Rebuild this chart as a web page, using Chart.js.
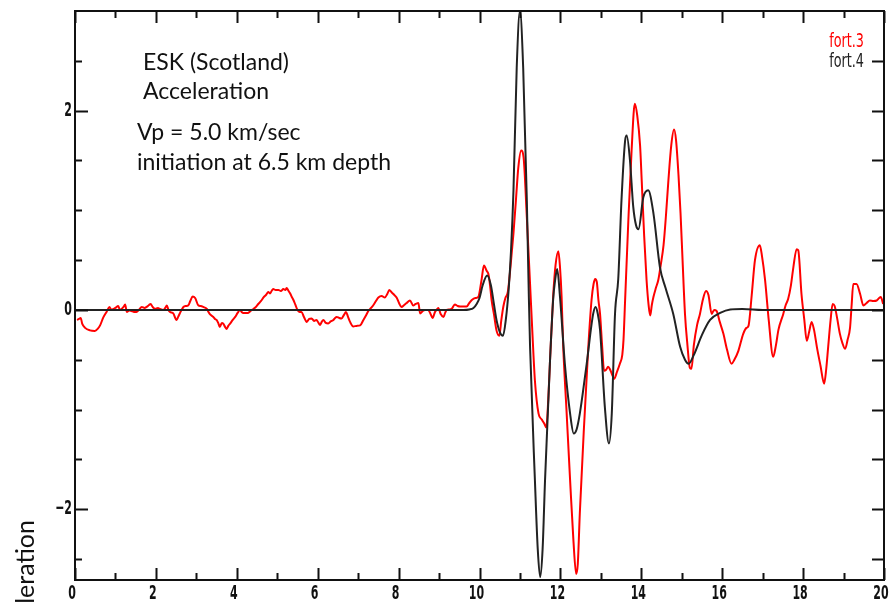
<!DOCTYPE html>
<html>
<head>
<meta charset="utf-8">
<script src="https://cdn.jsdelivr.net/npm/chart.js@4.4.0/dist/chart.umd.min.js"></script>
<style>
  html, body { margin: 0; padding: 0; background: #fff; }
</style>
</head>
<body>
<canvas id="accelChart" width="894" height="603"></canvas>
<script>
// observed record (fort.3): time in s, acceleration
const obsTime = [
  0.05, 0.10, 0.14, 0.18, 0.25, 0.37, 0.49, 0.56, 0.62, 0.70, 0.78, 0.85, 0.90, 0.95, 1.00,
  1.07, 1.11, 1.15, 1.20, 1.24, 1.28, 1.34, 1.40, 1.46, 1.52, 1.58, 1.65, 1.72, 1.77, 1.83,
  1.87, 1.92, 1.98, 2.05, 2.10, 2.18, 2.23, 2.27, 2.31, 2.35, 2.43, 2.51, 2.55, 2.59, 2.68,
  2.74, 2.80, 2.85, 2.91, 2.97, 3.05, 3.11, 3.17, 3.26, 3.30, 3.34, 3.42, 3.46, 3.50, 3.54,
  3.58, 3.63, 3.67, 3.71, 3.75, 3.79, 3.83, 3.90, 3.96, 4.02, 4.08, 4.12, 4.16, 4.22, 4.28,
  4.34, 4.41, 4.47, 4.53, 4.60, 4.66, 4.72, 4.78, 4.82, 4.86, 4.90, 4.96, 5.03, 5.09, 5.15,
  5.20, 5.23, 5.28, 5.32, 5.36, 5.40, 5.45, 5.50, 5.55, 5.60, 5.66, 5.73, 5.79, 5.85, 5.91,
  5.97, 6.02, 6.06, 6.10, 6.14, 6.20, 6.26, 6.32, 6.39, 6.43, 6.47, 6.53, 6.59, 6.65, 6.70,
  6.75, 6.80, 6.88, 6.96, 7.05, 7.13, 7.20, 7.26, 7.32, 7.37, 7.44, 7.50, 7.58, 7.66, 7.72,
  7.77, 7.82, 7.87, 7.95, 8.01, 8.07, 8.14, 8.20, 8.28, 8.36, 8.42, 8.49, 8.53, 8.60, 8.65,
  8.73, 8.79, 8.84, 8.90, 8.94, 8.98, 9.04, 9.11, 9.15, 9.19, 9.25, 9.31, 9.39, 9.46, 9.52,
  9.60, 9.68, 9.75, 9.81, 9.90, 9.97, 10.05, 10.11, 10.18, 10.22, 10.26, 10.30, 10.36, 10.42, 10.49,
  10.54, 10.59, 10.64, 10.70, 10.77, 10.84, 10.90, 10.96, 11.03, 11.09, 11.17, 11.25, 11.31, 11.37, 11.46,
  11.54, 11.60, 11.65, 11.70, 11.74, 11.82, 11.88, 11.95, 11.99, 12.03, 12.07, 12.15, 12.24, 12.32, 12.39,
  12.43, 12.48, 12.58, 12.69, 12.77, 12.82, 12.86, 12.90, 12.94, 12.98, 13.03, 13.08, 13.13, 13.18, 13.23,
  13.28, 13.33, 13.40, 13.47, 13.53, 13.56, 13.60, 13.68, 13.76, 13.84, 13.90, 13.97, 14.01, 14.07, 14.13,
  14.18, 14.22, 14.26, 14.30, 14.36, 14.42, 14.48, 14.55, 14.61, 14.67, 14.74, 14.81, 14.86, 14.92, 14.97,
  15.02, 15.08, 15.14, 15.20, 15.24, 15.30, 15.38, 15.45, 15.52, 15.60, 15.66, 15.74, 15.80, 15.86, 15.94,
  16.03, 16.12, 16.23, 16.30, 16.40, 16.52, 16.60, 16.65, 16.73, 16.81, 16.93, 16.98, 17.06, 17.15, 17.26,
  17.33, 17.39, 17.51, 17.57, 17.63, 17.70, 17.76, 17.84, 17.88, 17.96, 18.03, 18.09, 18.15, 18.21, 18.27,
  18.34, 18.43, 18.52, 18.57, 18.62, 18.68, 18.73, 18.78, 18.84, 18.91, 18.97, 19.04, 19.10, 19.16, 19.20,
  19.24, 19.32, 19.41, 19.49, 19.57, 19.65, 19.74, 19.82, 19.88, 19.92, 19.98
];
const obsAccel = [
  -0.10, -0.09, -0.08, -0.14, -0.18, -0.205, -0.21, -0.19, -0.155, -0.075, -0.02, 0.03, 0.00, 0.01, 0.02,
  0.04, 0.00, 0.01, 0.03, 0.055, -0.02, -0.005, -0.01, -0.02, -0.02, 0.00, 0.03, 0.02, 0.03, 0.05,
  0.06, 0.03, 0.01, 0.02, 0.01, 0.00, 0.02, 0.045, 0.00, -0.02, -0.035, -0.10, -0.07, -0.035, 0.03,
  0.04, 0.045, 0.09, 0.135, 0.12, 0.045, 0.04, 0.03, 0.01, -0.02, -0.045, -0.07, -0.09, -0.10, -0.13,
  -0.17, -0.13, -0.14, -0.17, -0.19, -0.16, -0.14, -0.10, -0.07, -0.03, 0.00, -0.02, -0.03, -0.03, -0.03,
  -0.01, 0.01, 0.03, 0.06, 0.09, 0.125, 0.15, 0.18, 0.165, 0.19, 0.21, 0.20, 0.20, 0.19, 0.21,
  0.20, 0.22, 0.19, 0.165, 0.13, 0.10, 0.05, 0.00, -0.02, -0.02, -0.07, -0.12, -0.09, -0.085, -0.11,
  -0.10, -0.13, -0.15, -0.12, -0.10, -0.13, -0.135, -0.115, -0.10, -0.08, -0.07, -0.08, -0.085, -0.05, -0.02,
  -0.07, -0.12, -0.165, -0.16, -0.155, -0.10, -0.05, -0.005, 0.02, 0.045, 0.09, 0.125, 0.14, 0.125, 0.16,
  0.20, 0.18, 0.16, 0.125, 0.07, 0.03, 0.05, 0.07, 0.095, 0.045, 0.06, 0.07, -0.035, -0.01, 0.00,
  0.00, -0.04, -0.08, -0.02, 0.00, 0.02, -0.04, -0.07, -0.03, 0.00, 0.005, 0.01, 0.055, 0.04, 0.035,
  0.035, 0.035, 0.07, 0.10, 0.12, 0.13, 0.30, 0.445, 0.39, 0.36, 0.25, 0.095, -0.05, -0.205, -0.26,
  -0.10, 0.035, 0.12, 0.18, 0.45, 0.77, 1.10, 1.43, 1.60, 1.53, 0.93, 0.26, -0.25, -0.71, -1.04,
  -1.10, -1.14, -1.18, -0.90, -0.54, 0.13, 0.45, 0.59, 0.43, 0.13, -0.37, -1.00, -1.71, -2.30, -2.65,
  -2.55, -2.04, -1.20, -0.37, 0.10, 0.26, 0.31, 0.28, 0.10, -0.04, -0.35, -0.61, -0.60, -0.57, -0.60,
  -0.65, -0.69, -0.62, -0.54, -0.45, -0.30, 0.10, 0.90, 1.60, 2.07, 1.95, 1.65, 1.30, 0.75, 0.30,
  0.05, -0.055, 0.05, 0.13, 0.22, 0.30, 0.45, 0.65, 0.95, 1.30, 1.65, 1.81, 1.70, 1.35, 0.97,
  0.50, -0.04, -0.35, -0.58, -0.59, -0.35, -0.15, -0.04, 0.10, 0.19, 0.15, -0.04, 0.00, -0.01, -0.12,
  -0.24, -0.40, -0.54, -0.50, -0.41, -0.24, -0.18, -0.16, 0.15, 0.50, 0.65, 0.55, 0.30, -0.10, -0.47,
  -0.35, -0.20, -0.04, 0.05, 0.11, 0.25, 0.43, 0.61, 0.60, 0.16, -0.10, -0.31, -0.22, -0.12, -0.20,
  -0.37, -0.56, -0.74, -0.60, -0.37, -0.10, 0.06, 0.04, -0.08, -0.24, -0.33, -0.39, -0.30, -0.18, 0.05,
  0.26, 0.26, 0.16, 0.045, 0.07, 0.095, 0.09, 0.095, 0.12, 0.13, 0.06
];

// synthetic trace (fort.4)
const synTime = [
  0, 9.60, 9.75, 9.85, 9.93, 10.00, 10.08, 10.19, 10.28, 10.36, 10.42, 10.50, 10.58, 10.65, 10.72,
  10.78, 10.84, 10.92, 11.00, 11.08, 11.17, 11.22, 11.25, 11.37, 11.44, 11.50, 11.56, 11.62, 11.74, 11.82,
  11.87, 11.92, 11.99, 12.11, 12.24, 12.33, 12.40, 12.48, 12.65, 12.81, 12.87, 12.92, 12.98, 13.10, 13.20,
  13.27, 13.35, 13.43, 13.51, 13.60, 13.64, 13.72, 13.80, 13.87, 13.93, 14.05, 14.17, 14.30, 14.46, 14.60,
  14.79, 14.96, 15.08, 15.17, 15.30, 15.50, 15.70, 15.95, 16.20, 16.50, 17.00, 20.00
];
const synAccel = [
  0, 0, 0.005, 0.02, 0.06, 0.12, 0.25, 0.345, 0.25, 0.05, -0.10, -0.22, -0.26, -0.10, 0.20,
  0.60, 1.20, 2.43, 3.00, 2.43, 1.10, 0.13, -0.37, -1.71, -2.40, -2.68, -2.40, -1.71, -0.54, 0.10,
  0.30, 0.41, 0.13, -0.54, -1.04, -1.24, -1.20, -1.04, -0.54, -0.04, 0.03, -0.03, -0.20, -0.98, -1.34,
  -1.04, -0.04, 0.31, 1.10, 1.70, 1.75, 1.50, 1.04, 0.85, 0.81, 1.13, 1.20, 0.97, 0.43, 0.22,
  -0.04, -0.37, -0.50, -0.54, -0.45, -0.25, -0.10, -0.03, 0.005, 0.01, 0, 0
];

const xTicks = [0, 2, 4, 6, 8, 10, 12, 14, 16, 18, 20];
const yTicks = [-2, 0, 2];

const notes = [
  { text: 'ESK (Scotland)', x: 143, y: 70 },
  { text: 'Acceleration', x: 143, y: 99 },
  { text: 'Vp = 5.0 km/sec', x: 137, y: 140 },
  { text: 'initiation at 6.5 km depth', x: 137, y: 170 }
];

const noteFont = '23px Lato, "Open Sans", sans-serif';
const titleFont = '25px Lato, "Open Sans", sans-serif';
const labelFont = 'bold 20px "DejaVu Sans", sans-serif';
const legendFont = '20px "DejaVu Sans", sans-serif';

function toPoints(xs, ys) {
  return xs.map((x, i) => ({ x: x, y: ys[i] }));
}

// narrow text: squeeze horizontally around the anchor point
function narrowText(ctx, text, x, y, align, squeeze) {
  ctx.save();
  ctx.translate(x, y);
  ctx.scale(squeeze, 1);
  ctx.textAlign = align;
  ctx.fillText(text, 0, 0);
  ctx.restore();
}

// box with inward ticks, tick labels, text notes, series names and the y title
const framePlugin = {
  id: 'frame',
  afterDraw(chart) {
    const ctx = chart.ctx;
    const a = chart.chartArea;
    const xs = chart.scales.x;
    const ys = chart.scales.y;
    ctx.save();
    ctx.strokeStyle = '#111';
    ctx.lineWidth = 2;
    ctx.strokeRect(a.left, a.top, a.right - a.left, a.bottom - a.top);

    ctx.beginPath();
    for (let v = 0; v <= 20; v += 1) {
      const px = Math.round(xs.getPixelForValue(v)) + 0.5;
      const len = v % 2 === 0 ? 12 : 7;
      ctx.moveTo(px, a.bottom); ctx.lineTo(px, a.bottom - len);
      ctx.moveTo(px, a.top); ctx.lineTo(px, a.top + len);
    }
    for (let v = -2.5; v <= 2.5; v += 0.5) {
      const py = Math.round(ys.getPixelForValue(v)) + 0.5;
      const len = v % 2 === 0 ? 13 : 7;
      ctx.moveTo(a.left, py); ctx.lineTo(a.left + len, py);
      ctx.moveTo(a.right, py); ctx.lineTo(a.right - 12, py);
    }
    ctx.stroke();

    // tick labels
    ctx.fillStyle = '#111';
    ctx.font = labelFont;
    ctx.textBaseline = 'top';
    xTicks.forEach(v => {
      narrowText(ctx, String(v), xs.getPixelForValue(v) - 3, a.bottom + 4, 'center', 0.55);
    });
    ctx.textBaseline = 'middle';
    yTicks.forEach(v => {
      narrowText(ctx, String(v).replace('-', '\u2212'), a.left - 3, ys.getPixelForValue(v), 'right', 0.55);
    });

    ctx.textBaseline = 'alphabetic';
    ctx.font = noteFont;
    ctx.textAlign = 'left';
    notes.forEach(n => ctx.fillText(n.text, n.x, n.y));

    ctx.font = legendFont;
    chart.data.datasets.forEach((ds, i) => {
      ctx.fillStyle = ds.borderColor;
      narrowText(ctx, ds.label, 864, 47 + i * 19.5, 'right', 0.64);
    });

    ctx.translate(34, 520);
    ctx.rotate(-Math.PI / 2);
    ctx.fillStyle = '#111';
    ctx.font = titleFont;
    ctx.textAlign = 'right';
    ctx.fillText('Acceleration', 0, 0);
    ctx.restore();
  }
};

new Chart(document.getElementById('accelChart').getContext('2d'), {
  type: 'scatter',
  data: {
    datasets: [{
      label: 'fort.3',
      data: toPoints(obsTime, obsAccel),
      showLine: true,
      borderColor: '#ff0000',
      borderWidth: 2,
      pointRadius: 0,
      cubicInterpolationMode: 'monotone',
      order: 2
    }, {
      label: 'fort.4',
      data: toPoints(synTime, synAccel),
      showLine: true,
      borderColor: '#222222',
      borderWidth: 2,
      pointRadius: 0,
      cubicInterpolationMode: 'monotone',
      clip: 8,
      order: 1
    }]
  },
  options: {
    responsive: false,
    animation: false,
    layout: { padding: { top: 11, right: 10, left: 0, bottom: 0 } },
    plugins: {
      legend: { display: false },
      tooltip: { enabled: false }
    },
    scales: {
      x: {
        type: 'linear',
        min: 0,
        max: 20,
        grid: { display: false, drawTicks: false },
        border: { display: false },
        afterBuildTicks: s => { s.ticks = xTicks.map(v => ({ value: v })); },
        afterFit: s => { s.height = 23; },
        ticks: { display: false }
      },
      y: {
        type: 'linear',
        min: -2.71,
        max: 3.0,
        grid: { display: false, drawTicks: false },
        border: { display: false },
        afterBuildTicks: s => { s.ticks = yTicks.map(v => ({ value: v })); },
        afterFit: s => { s.width = 75; },
        ticks: { display: false }
      }
    }
  },
  plugins: [framePlugin]
});
</script>
</body>
</html>
